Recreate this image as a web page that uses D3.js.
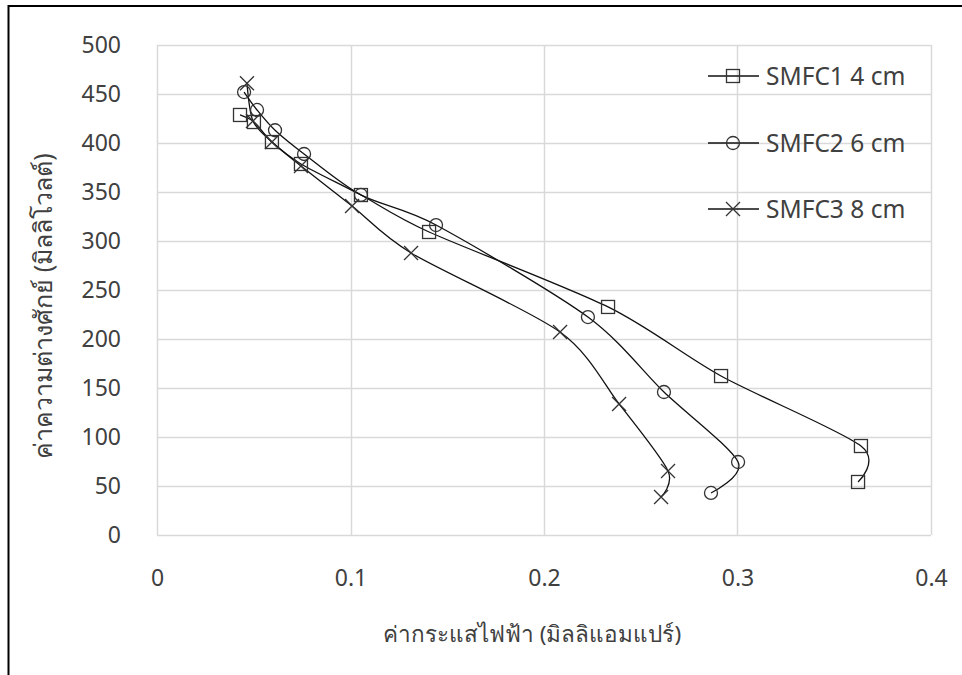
<!DOCTYPE html>
<html><head><meta charset="utf-8">
<script src="https://cdn.jsdelivr.net/npm/d3@7"></script>
<style>body{margin:0;background:#fff}svg{display:block}text{font-family:"Noto Sans","Open Sans",sans-serif}</style>
</head><body>
<svg id="c" width="962" height="675"></svg>
<script>
const seriesNames = ["SMFC1 4 cm", "SMFC2 6 cm", "SMFC3 8 cm"];
const markerTypes = ["square", "circle", "cross"];
const smfc1X = [0.0429, 0.0501, 0.0594, 0.0744, 0.1054, 0.1406, 0.2331, 0.2915, 0.3638, 0.3623];
const smfc1Y = [428.6, 421.4, 401, 378.6, 346.9, 309.2, 232.7, 162.2, 90.8, 54.1];
const smfc2X = [0.0450, 0.0517, 0.0610, 0.0760, 0.1054, 0.1442, 0.2227, 0.2620, 0.3003, 0.2863];
const smfc2Y = [452, 433.7, 413, 388.8, 347, 316.3, 222.4, 145.9, 74.5, 42.9];
const smfc3X = [0.0465, 0.0496, 0.0594, 0.0744, 0.1008, 0.1313, 0.2083, 0.2388, 0.2641, 0.2605];
const smfc3Y = [461, 422.4, 401, 376.5, 335.7, 287.8, 207.1, 133.7, 65.3, 38.8];
const xTicks = [0, 0.1, 0.2, 0.3, 0.4];
const yTicks = [0, 50, 100, 150, 200, 250, 300, 350, 400, 450, 500];
const xTitle = "ค่ากระแสไฟฟ้า (มิลลิแอมแปร์)";
const yTitle = "ค่าความต่างศักย์ (มิลลิโวลต์)";

const svg = d3.select("#c");
const L = 157, R = 931, T = 45, B = 535;
const x = d3.scaleLinear().domain([0, 0.4]).range([L, R]);
const y = d3.scaleLinear().domain([0, 500]).range([B, T]);
const textColor = "#404040";
const fontFam = '"Noto Sans","Open Sans",sans-serif';

// frame
svg.append("line").attr("x1", 8.5).attr("x2", 8.5).attr("y1", 5).attr("y2", 675).attr("stroke", "#000").attr("stroke-width", 2);
svg.append("line").attr("x1", 8).attr("x2", 962).attr("y1", 6).attr("y2", 6).attr("stroke", "#000").attr("stroke-width", 2);

// grid
const g = svg.append("g");
g.selectAll(".gy").data(yTicks).join("line")
  .attr("x1", L).attr("x2", R).attr("y1", d => Math.round(y(d)) + 0.5).attr("y2", d => Math.round(y(d)) + 0.5)
  .attr("stroke", "#d9d9d9").attr("stroke-width", 1.5);
g.selectAll(".gx").data(xTicks).join("line")
  .attr("y1", T).attr("y2", B).attr("x1", d => Math.round(x(d)) + 0.5).attr("x2", d => Math.round(x(d)) + 0.5)
  .attr("stroke", "#d9d9d9").attr("stroke-width", 1.5);

// axes via d3 axis (labels only)
const yAxis = svg.append("g").attr("transform", `translate(121,0)`)
  .call(d3.axisLeft(y).tickValues(yTicks).tickSize(0).tickPadding(0));
const xAxis = svg.append("g").attr("transform", `translate(0,${B + 34})`)
  .call(d3.axisBottom(x).tickValues(xTicks).tickSize(0).tickPadding(0).tickFormat(d => d === 0 ? "0" : d3.format(".1f")(d)));
[yAxis, xAxis].forEach(a => {
  a.select(".domain").remove();
  a.selectAll("text").attr("fill", textColor).style("font-size", "23px").style("font-family", fontFam);
});
xAxis.selectAll("text").attr("dy", "0.75em");

// titles
svg.append("text").attr("x", 532).attr("y", 642).attr("text-anchor", "middle")
  .attr("fill", textColor).style("font-size", "22.5px").text(xTitle);
svg.append("text").attr("transform", "translate(52,306) rotate(-90)").attr("text-anchor", "middle")
  .attr("fill", textColor).style("font-size", "25px").text(yTitle);

// series
const data = [
  smfc1X.map((v, i) => [v, smfc1Y[i]]),
  smfc2X.map((v, i) => [v, smfc2Y[i]]),
  smfc3X.map((v, i) => [v, smfc3Y[i]])
];
const line = d3.line().x(d => x(d[0])).y(d => y(d[1])).curve(d3.curveCardinal.tension(0.15));
const lineColor = "#111";
const markColor = "#333";

function drawMarker(sel, type, cx, cy) {
  if (type === "square") {
    sel.append("rect").attr("x", cx - 6.5).attr("y", cy - 6.5).attr("width", 13).attr("height", 13)
      .attr("fill", "none").attr("stroke", markColor).attr("stroke-width", 1.3);
  } else if (type === "circle") {
    sel.append("circle").attr("cx", cx).attr("cy", cy).attr("r", 6.5)
      .attr("fill", "none").attr("stroke", markColor).attr("stroke-width", 1.3);
  } else {
    const s = 7;
    sel.append("path").attr("d", `M${cx - s},${cy - s}L${cx + s},${cy + s}M${cx - s},${cy + s}L${cx + s},${cy - s}`)
      .attr("fill", "none").attr("stroke", markColor).attr("stroke-width", 1.3);
  }
}

data.forEach((pts, si) => {
  svg.append("path").attr("d", line(pts)).attr("fill", "none").attr("stroke", lineColor).attr("stroke-width", 1.3);
});
data.forEach((pts, si) => {
  const mg = svg.append("g");
  pts.forEach(p => drawMarker(mg, markerTypes[si], x(p[0]), y(p[1])));
});

// legend
const legY = [76, 143, 209];
seriesNames.forEach((name, i) => {
  const lg = svg.append("g");
  lg.append("line").attr("x1", 708).attr("x2", 759).attr("y1", legY[i]).attr("y2", legY[i]).attr("stroke", lineColor).attr("stroke-width", 1.3);
  drawMarker(lg, markerTypes[i], 733, legY[i]);
  lg.append("text").attr("x", 766).attr("y", legY[i]).attr("dy", "0.35em").attr("fill", textColor)
    .style("font-size", "24.5px").text(name);
});
</script>
</body></html>
